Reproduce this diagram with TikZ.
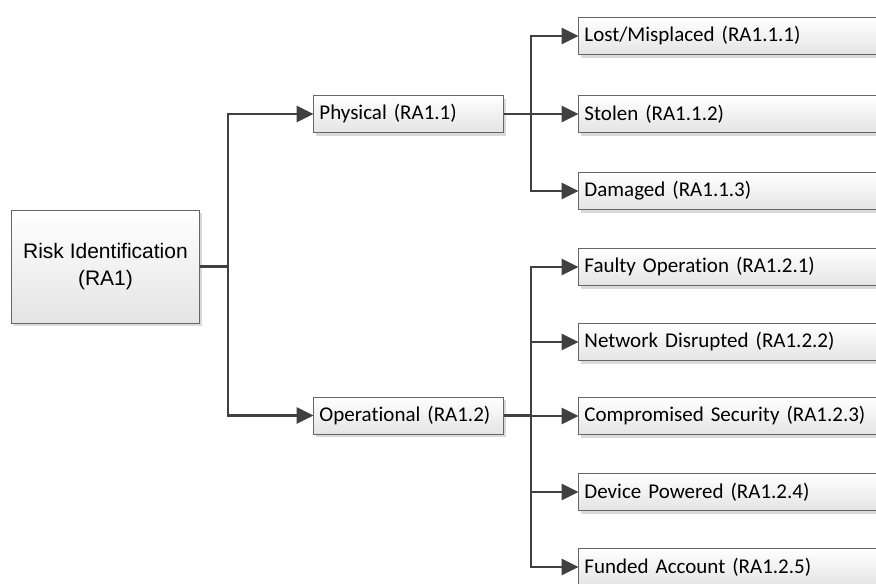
\documentclass[tikz,border=0pt]{standalone}
\usepackage{fontspec}
\newfontfamily\calibri[Ligatures=CommonOff]{Carlito}
\newfontfamily\arial{Liberation Sans}
\usetikzlibrary{arrows.meta,shadows}
\definecolor{boxline}{HTML}{666666}
\definecolor{boxbot}{HTML}{E4E4E4}
\definecolor{shadowc}{HTML}{DADADA}
\definecolor{linec}{HTML}{404040}
\tikzset{
  box/.style={draw=boxline, line width=0.9pt, top color=white, bottom color=boxbot,
    drop shadow={shadow xshift=3pt, shadow yshift=-3pt, fill=shadowc, opacity=1},
    anchor=west, inner xsep=6pt, inner ysep=0pt},
  rootbox/.style={box, minimum width=188pt, minimum height=113pt, align=center,
    font=\arial\fontsize{21}{27}\selectfont},
  midbox/.style={box, text width=178pt, minimum height=37pt, align=left,
    font=\calibri\fontsize{21}{25}\selectfont},
  leafbox/.style={box, text width=330pt, minimum height=37pt, align=left,
    font=\calibri\fontsize{21}{25}\selectfont},
  conn/.style={draw=linec, line width=2.7pt},
  arr/.style={conn, -{Triangle[length=17pt,width=16pt]}, shorten >=-0.5pt}
}
\begin{document}
\begin{tikzpicture}[x=1pt,y=-1pt]
\useasboundingbox (0,0) rectangle (876,584);
\clip (0,0) rectangle (876,584);
\fill[white] (0,0) rectangle (876,584);
\node[rootbox] (root) at (11,266.5) {Risk Identification\\(RA1)};
\node[midbox] (phys) at (313,114) {Physical (RA1.1)};
\node[midbox] (oper) at (313,415.5) {Operational (RA1.2)};
\node[leafbox] (l1) at (578,36) {Lost/Misplaced (RA1.1.1)};
\node[leafbox] (l2) at (578,114) {Stolen (RA1.1.2)};
\node[leafbox] (l3) at (578,191) {Damaged (RA1.1.3)};
\node[leafbox] (o1) at (578,267) {Faulty Operation (RA1.2.1)};
\node[leafbox] (o2) at (578,342) {Network Disrupted (RA1.2.2)};
\node[leafbox] (o3) at (578,416) {Compromised Security (RA1.2.3)};
\node[leafbox] (o4) at (578,492) {Device Powered (RA1.2.4)};
\node[leafbox] (o5) at (578,567) {Funded Account (RA1.2.5)};
\coordinate (rj) at (228,266.5);
\coordinate (pj) at (531,114);
\coordinate (oj) at (531,415.5);
\draw[conn] (root.east) -- (rj);
\draw[arr] (rj) |- (phys.west);
\draw[arr] (rj) |- (oper.west);
\draw[conn] (phys.east) -- (pj);
\draw[arr] (pj) |- (l1.west);
\draw[arr] (pj) |- (l2.west);
\draw[arr] (pj) |- (l3.west);
\draw[conn] (oper.east) -- (oj);
\draw[arr] (oj) |- (o1.west);
\draw[arr] (oj) |- (o2.west);
\draw[arr] (oj) |- (o3.west);
\draw[arr] (oj) |- (o4.west);
\draw[arr] (oj) |- (o5.west);
\end{tikzpicture}
\end{document}
